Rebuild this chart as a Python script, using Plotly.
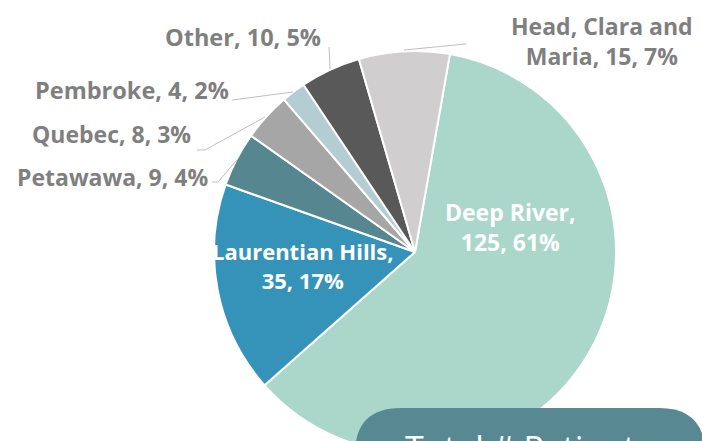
import plotly.graph_objects as go

labels = ["Deep River", "Laurentian Hills", "Petawawa", "Quebec", "Pembroke", "Other", "Head, Clara and Maria"]
values = [125, 35, 9, 8, 4, 10, 15]
pct_labels = ["61%", "17%", "4%", "3%", "2%", "5%", "7%"]
colors = ["#ABD6CA", "#3593BA", "#568690", "#A6A6A6", "#B3CDD3", "#595959", "#D0CECE"]
total_text = "Total # Patients"

W, H = 702, 540
def px(x):
    return x / W
def py(y):
    return (H - y) / H

cx, cy, r = 415, 252, 201

fig = go.Figure(go.Pie(
    labels=labels, values=values, sort=False, direction="clockwise", rotation=10,
    marker=dict(colors=colors, line=dict(color="white", width=2)),
    textinfo="none", hoverinfo="label+value+percent", showlegend=False,
    domain=dict(x=[px(cx - r), px(cx + r)], y=[py(cy + r), py(cy - r)]),
))

# label placement (pixel centres) and leader lines
label_pos = {
    "Deep River": (510, 227, "white", 23, "Deep River,<br>{v}, {p}"),
    "Laurentian Hills": (303, 265, "white", 22, "Laurentian Hills,<br>{v}, {p}"),
    "Petawawa": (112, 177, "#7F7F7F", 23, "Petawawa, {v}, {p}"),
    "Quebec": (111, 134, "#7F7F7F", 23, "Quebec, {v}, {p}"),
    "Pembroke": (132, 90, "#7F7F7F", 23.5, "Pembroke, {v}, {p}"),
    "Other": (243, 37, "#7F7F7F", 23.5, "Other, {v}, {p}"),
    "Head, Clara and Maria": (602, 41, "#7F7F7F", 23, "Head, Clara and<br>Maria, {v}, {p}"),
}
annotations = []
for lab, v, p in zip(labels, values, pct_labels):
    x, y, col, sz, tpl = label_pos[lab]
    annotations.append(dict(
        x=px(x), y=py(y), xref="paper", yref="paper", showarrow=False,
        text=tpl.format(v=v, p=p), xanchor="center", yanchor="middle",
        font=dict(family="Open Sans", size=sz, color=col, weight="bold"),
        align="center",
    ))

leaders = [
    [(329, 47), (330, 69)],
    [(232, 100), (293, 92)],
    [(197, 150), (205, 150), (265, 117)],
    [(212, 182), (218, 182), (237, 160)],
    [(404, 50), (466, 44)],
]
shapes = []
for pts in leaders:
    path = "M " + " L ".join(f"{px(a)},{py(b)}" for a, b in pts)
    shapes.append(dict(type="path", xref="paper", yref="paper", path=path,
                       line=dict(color="#BFBFBF", width=1)))

# rounded box at bottom right
bx0, by0, bx1, by1, rr = 355, 408, 705, 500, 46
box = (f"M {px(bx0+rr)},{py(by0)} L {px(bx1-rr)},{py(by0)} "
       f"Q {px(bx1)},{py(by0)} {px(bx1)},{py(by0+rr)} L {px(bx1)},{py(by1-rr)} "
       f"Q {px(bx1)},{py(by1)} {px(bx1-rr)},{py(by1)} L {px(bx0+rr)},{py(by1)} "
       f"Q {px(bx0)},{py(by1)} {px(bx0)},{py(by1-rr)} L {px(bx0)},{py(by0+rr)} "
       f"Q {px(bx0)},{py(by0)} {px(bx0+rr)},{py(by0)} Z")
shapes.append(dict(type="path", xref="paper", yref="paper", path=box,
                   fillcolor="#588891", line=dict(width=0), layer="above"))
annotations.append(dict(
    x=px(403), y=py(423), xref="paper", yref="paper", showarrow=False,
    text=total_text, xanchor="left", yanchor="top",
    font=dict(family="Open Sans", size=34, color="white", weight=500),
))

fig.update_layout(
    width=W, height=H, autosize=False,
    margin=dict(l=0, r=0, t=0, b=0),
    paper_bgcolor="white", plot_bgcolor="white",
    shapes=shapes, annotations=annotations,
)

fig.write_html("out.html", config={"displayModeBar": False},
               post_script="document.body.style.margin='0';document.body.style.overflow='hidden';")
